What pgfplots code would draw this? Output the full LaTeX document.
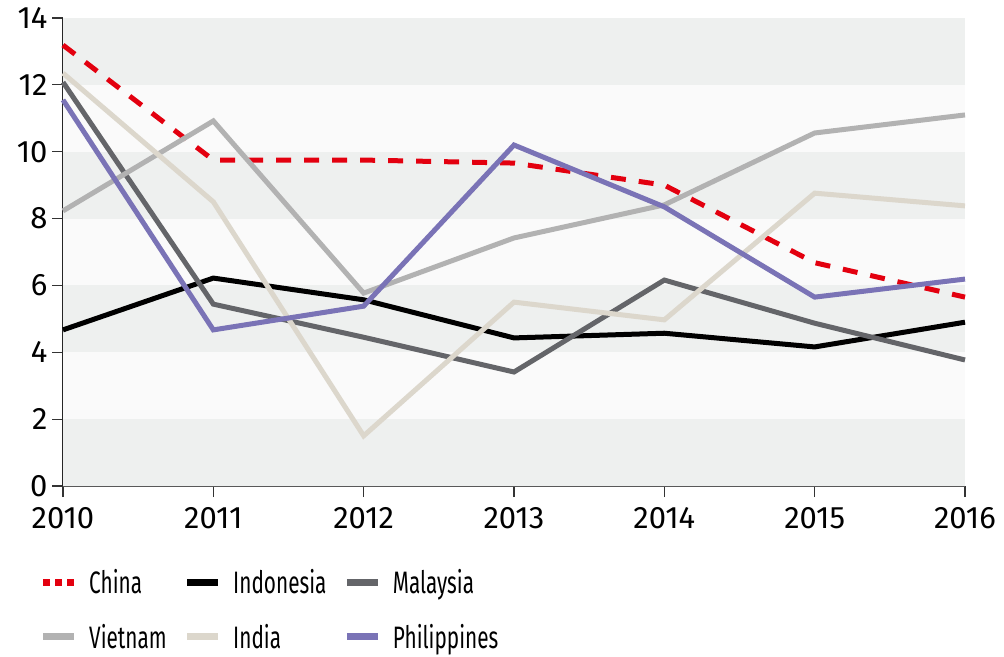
\documentclass[border=0pt]{standalone}
\usepackage{fontspec}
\setmainfont{Fira Sans}
\newfontfamily\legfont[FakeStretch=0.67]{Fira Sans}
\usepackage{pgfplots}
\pgfplotsset{compat=1.18}
\definecolor{cChina}{HTML}{E3000F}
\definecolor{cIndo}{HTML}{000000}
\definecolor{cMal}{HTML}{646569}
\definecolor{cViet}{HTML}{B2B2B2}
\definecolor{cIndia}{HTML}{DCD7CC}
\definecolor{cPhil}{HTML}{7A73B6}
\definecolor{bandD}{HTML}{EEF0EF}
\definecolor{bandL}{HTML}{FAFAFA}
\begin{document}
\begin{tikzpicture}
\begin{axis}[
  scale only axis,
  width=902pt, height=468pt,
  xmin=2010, xmax=2016, ymin=0, ymax=14,
  axis lines=left,
  axis line style={-},
  x axis line style={color=black!65, line width=2pt},
  y axis line style={color=black!85, line width=1.5pt},
  tick align=outside,
  major tick length=11pt,
  tick style={color=black!80, line width=1.2pt},
  xtick={2010,2011,2012,2013,2014,2015,2016},
  ytick={0,2,4,6,8,10,12,14},
  /pgf/number format/assume math mode=true,
  /pgf/number format/1000 sep={},
  tick label style={font=\fontsize{31}{31}\selectfont},
  x tick label style={yshift=-7pt},
  y tick label style={xshift=-1pt},
  clip=false,
  legend columns=3,
  legend cell align=left,
  legend image code/.code={\draw[#1] (0pt,0pt) -- (31pt,0pt);},
  legend style={
    at={(-0.026,-0.173)}, anchor=north west,
    draw=none, fill=none, inner sep=0pt,
    font=\fontsize{31}{31}\legfont,
    nodes={inner xsep=0pt},
    row sep=25pt,
    /tikz/column 1/.style={column sep=11.5pt},
    /tikz/column 2/.style={column sep=17pt},
    /tikz/column 3/.style={column sep=11.5pt},
    /tikz/column 4/.style={column sep=17pt},
    /tikz/column 5/.style={column sep=11.5pt},
  },
  every axis plot/.append style={line width=5pt},
]
\fill[bandD] (axis cs:2010,0) rectangle (axis cs:2016,2);
\fill[bandL] (axis cs:2010,2) rectangle (axis cs:2016,4);
\fill[bandD] (axis cs:2010,4) rectangle (axis cs:2016,6);
\fill[bandL] (axis cs:2010,6) rectangle (axis cs:2016,8);
\fill[bandD] (axis cs:2010,8) rectangle (axis cs:2016,10);
\fill[bandL] (axis cs:2010,10) rectangle (axis cs:2016,12);
\fill[bandD] (axis cs:2010,12) rectangle (axis cs:2016,14);
\coordinate (bl) at (rel axis cs:0,0);

\addplot[cChina, dash pattern=on 15pt off 13pt, legend image post style={line width=7pt, dash pattern=on 7pt off 5pt}] coordinates {
(2010,13.19) (2011,9.75) (2012,9.75) (2013,9.66) (2014,9.0) (2015,6.68) (2016,5.65)};
\addlegendentry{China}
\addplot[cIndo, legend image post style={line width=7pt}] coordinates {
(2010,4.67) (2011,6.22) (2012,5.57) (2013,4.43) (2014,4.57) (2015,4.16) (2016,4.9)};
\addlegendentry{Indonesia}
\addplot[cMal, legend image post style={line width=7pt}] coordinates {
(2010,12.08) (2011,5.44) (2012,4.45) (2013,3.41) (2014,6.16) (2015,4.87) (2016,3.77)};
\addlegendentry{Malaysia}
\addplot[cViet, legend image post style={line width=7pt}] coordinates {
(2010,8.23) (2011,10.92) (2012,5.77) (2013,7.42) (2014,8.41) (2015,10.56) (2016,11.1)};
\addlegendentry{Vietnam}
\addplot[cIndia, legend image post style={line width=7pt}] coordinates {
(2010,12.35) (2011,8.5) (2012,1.5) (2013,5.5) (2014,4.97) (2015,8.76) (2016,8.38)};
\addlegendentry{India}
\addplot[cPhil, legend image post style={line width=7pt}] coordinates {
(2010,11.55) (2011,4.67) (2012,5.38) (2013,10.2) (2014,8.35) (2015,5.65) (2016,6.19)};
\addlegendentry{Philippines}
\end{axis}
\pgfresetboundingbox
\path ([shift={(-63pt,-170pt)}]bl) rectangle ([shift={(941pt,486pt)}]bl);
\end{tikzpicture}
\end{document}
